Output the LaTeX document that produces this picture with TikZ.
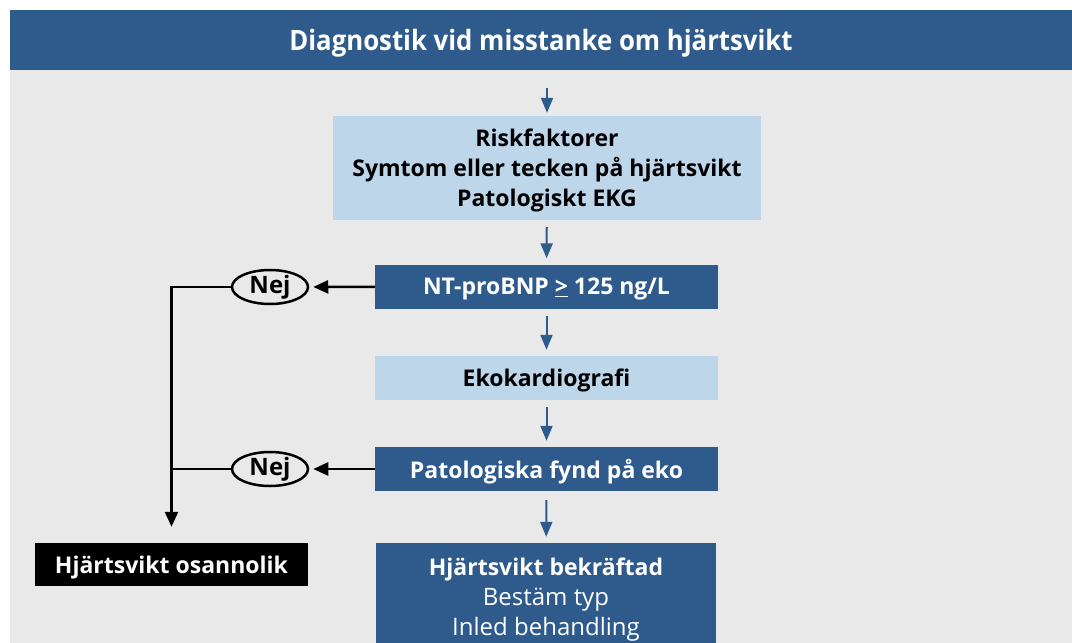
\documentclass[tikz,border=0pt]{standalone}
\usepackage{fontspec}
\setmainfont{Open Sans}
\usetikzlibrary{arrows.meta,shapes.geometric}
\definecolor{darkblue}{RGB}{46,90,140}
\definecolor{lightblue}{RGB}{190,214,234}
\definecolor{bggray}{RGB}{233,233,233}

\begin{document}
\begin{tikzpicture}
[
    x=1pt, y=-1pt,
    boxtext/.style={font=\bfseries\fontsize{23}{30}\selectfont, align=center, inner sep=0pt, text depth=0pt},
    bluebox/.style={boxtext, fill=darkblue, text=white, minimum width=343pt, minimum height=44pt},
    lightbox/.style={boxtext, fill=lightblue, text=black, minimum width=343pt, minimum height=44pt},
    bluearrow/.style={draw=darkblue, line width=2pt, -{Triangle[length=15pt,width=12pt]}, shorten <=7pt, shorten >=6pt},
    blackline/.style={draw=black, line width=2.5pt},
    blackarrow/.style={blackline, -{Triangle[length=15pt,width=13pt]}},
    nejnode/.style={ellipse, draw, line width=2.5pt, fill=bggray, minimum width=76pt, minimum height=34pt, inner sep=0pt, font=\bfseries\fontsize{24}{26}\selectfont},
]
\useasboundingbox (0,0) rectangle (1072,643);
\fill[white] (0,0) rectangle (1072,643);
\fill[bggray] (10,70) rectangle (1072,643);

\node [boxtext, font=\bfseries\fontsize{28}{30}\selectfont, fill=darkblue, text=white, minimum width=1062pt, minimum height=60pt] (title) at (541,40)
{\scalebox{0.92}[1]{Diagnostik vid misstanke om hjärtsvikt}};
\node [lightbox, minimum width=428pt, minimum height=104pt] (risk) at (547,168)
{Riskfaktorer\\Symtom eller tecken på hjärtsvikt\\Patologiskt EKG};
\node [bluebox] (bnp) at (546.5,286.5) {NT-proBNP \underline{>} 125 ng/L};
\node [lightbox] (eko) at (546.5,378) {Ekokardiografi};
\node [bluebox] (fynd) at (546.5,469) {Patologiska fynd på eko};
\node [bluebox, font=\fontsize{24}{30}\selectfont, minimum width=340pt, minimum height=108pt] (bekr) at (546,597)
{{\bfseries\fontsize{23}{30}\selectfont Hjärtsvikt bekräftad}\\Bestäm typ\\Inled behandling};
\node [nejnode] (nej1) at (270,287) {Nej};
\node [nejnode] (nej2) at (270,469) {Nej};
\node [boxtext, fill=black, text=white, minimum width=273pt, minimum height=43pt] (osann) at (171.5,564.5)
{Hjärtsvikt osannolik};

\draw [bluearrow, shorten <=18pt, shorten >=3pt] (risk.north |- title.south) -- (risk.north);
\draw [bluearrow] (risk) -- (bnp);
\draw [bluearrow] (bnp) -- (eko);
\draw [bluearrow] (eko) -- (fynd);
\draw [bluearrow, shorten <=9pt] (fynd) -- (bekr);
\draw [blackarrow, shorten >=4pt] (bnp) -- (nej1);
\draw [blackarrow, shorten >=4pt] (fynd) -- (nej2);
\draw [blackarrow, shorten >=16pt] (nej1.west) -| (osann.north);
\draw [blackline] (nej2.west) -- (nej2.west -| osann.north);
\end{tikzpicture}
\end{document}
